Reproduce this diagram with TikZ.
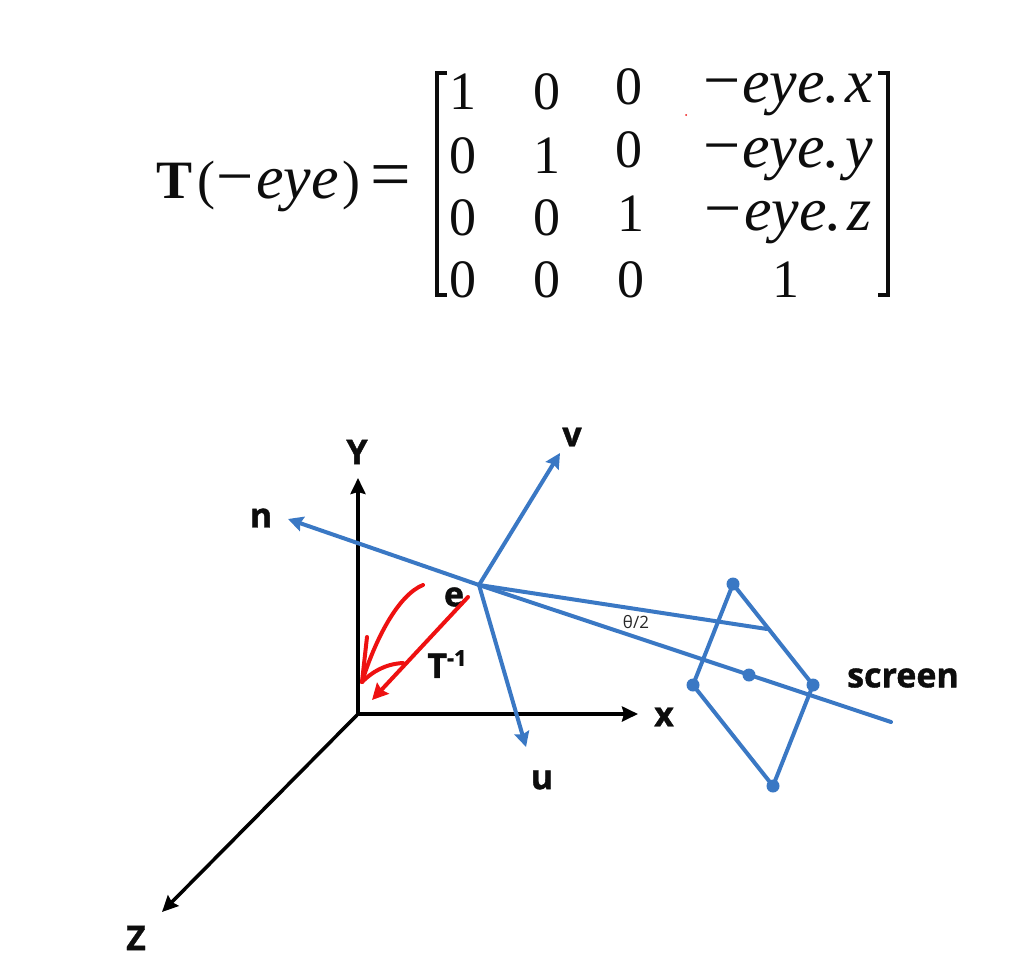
\documentclass[tikz,border=0pt]{standalone}
\usepackage{fontspec}
\setmainfont[BoldFeatures={FakeBold=1.2}]{Open Sans}
\newfontfamily\mfam{Liberation Serif}
\newcommand{\itx}[1]{{\fontsize{62}{62}\selectfont\itshape #1}}
\newcommand{\eyedot}[1]{{\fontsize{66}{66}\selectfont −}\kern2pt\itx{eye.\kern5pt #1}}
\usetikzlibrary{arrows.meta}
\definecolor{bluel}{HTML}{3A78C4}
\definecolor{redl}{HTML}{EE1111}
\tikzset{
 matentry/.style={inner sep=0pt,font=\mfam\fontsize{54}{54}\selectfont,text=black!95},
 lbl/.style={inner sep=0pt,font=\fontsize{34}{34}\selectfont\bfseries,text=black!95},
 axis/.style={line width=3.5pt,black,-{Stealth[inset=2pt,length=16pt,width=15pt]}},
 bline/.style={line width=4pt,bluel,line cap=round,line join=round},
 barrow/.style={bline,-{Stealth[inset=2pt,length=15pt,width=15pt]}},
 bdot/.style={circle,fill=bluel,inner sep=0pt,minimum size=13pt},
 rline/.style={line width=4pt,redl,line cap=round,line join=round},
 brack/.style={line width=3.6pt,black!95}
}
\begin{document}
\begin{tikzpicture}[x=1pt,y=-1pt]
\useasboundingbox (0,0) rectangle (1012,966);
% equation
\node[matentry] (lhs) at (284,186) {\textbf{T}\kern5pt(\kern1pt{\fontsize{66}{66}\selectfont −}\kern2pt\itx{eye}\kern4pt)\kern10pt{\fontsize{72}{72}\selectfont =}};
\draw[brack] (447,73) -- (437,73) -- (437,295) -- (447,295);
\draw[brack] (878,73) -- (888,73) -- (888,295) -- (878,295);
\node[matentry] (a11) at (463,92) {1};
\node[matentry] (a12) at (547,92) {0};
\node[matentry] (a13) at (629,87) {0};
\node[matentry] (a14) at (788,95) {\eyedot{x}};
\node[matentry] (a21) at (463,156) {0};
\node[matentry] (a22) at (547,156) {1};
\node[matentry] (a23) at (629,150) {0};
\node[matentry] (a24) at (788,160) {\eyedot{y}};
\node[matentry] (a31) at (463,218) {0};
\node[matentry] (a32) at (547,218) {0};
\node[matentry] (a33) at (631,214) {1};
\node[matentry] (a34) at (788,223) {\eyedot{z}};
\node[matentry] (a41) at (463,280) {0};
\node[matentry] (a42) at (547,280) {0};
\node[matentry] (a43) at (631,280) {0};
\node[matentry] (a44) at (786,280) {1};
\fill[redl] (686,115) circle (1pt);
% world axes
\coordinate (O) at (358,714);
\coordinate (Yt) at (358,478);
\coordinate (Xt) at (638,714);
\coordinate (Zt) at (162,912);
\draw[axis] (O) -- (Yt);
\draw[axis] (O) -- (Xt);
\draw[axis] (O) -- (Zt);
\node[lbl] (Y) at (357,452) {Y};
\node[lbl] (X) at (664,717) {x};
\node[lbl] (Z) at (136,938) {Z};
% camera
\coordinate (E) at (479,585);
\coordinate (N) at (288,519);
\coordinate (V) at (560,453);
\coordinate (U) at (526,747);
\coordinate (S) at (891,722);
\coordinate (Th) at (767,629);
\draw[barrow] (E) -- (N);
\draw[barrow] (E) -- (V);
\draw[barrow] (E) -- (U);
\draw[bline] (E) -- (S);
\draw[bline] (E) -- (Th);
\node[bdot] (q1) at (733,584) {};
\node[bdot] (q2) at (813,685) {};
\node[bdot] (q3) at (773,786) {};
\node[bdot] (q4) at (693,685) {};
\node[bdot] (qc) at (749,675) {};
\draw[bline] (q1.center) -- (q2.center) -- (q3.center) -- (q4.center) -- cycle;
\node[lbl] (n) at (261,518) {n};
\node[lbl] (v) at (572,437) {v};
\node[lbl] (u) at (542,780) {u};
\node[lbl] (e) at (454,597) {e};
\node[lbl] (T) at (447,664) {T\raisebox{12pt}{\fontsize{22}{22}\selectfont -1}};
\node[lbl] (scr) at (903,678) {screen};
\node[inner sep=0pt,font=\fontsize{17}{17}\selectfont,text=black!85] (th) at (636,622) {θ/2};
% red strokes
\coordinate (R1) at (468,597);
\coordinate (R2) at (372,700);
\coordinate (C0) at (423,585);
\coordinate (C1) at (362,682);
\coordinate (B1) at (367,637);
\coordinate (B2) at (403,663);
\draw[rline,-{Stealth[inset=2pt,length=16pt,width=16pt]}] (R1) -- (R2);
\draw[rline] (C0) .. controls (398,595) and (375,640) .. (C1);
\draw[rline] (B1) -- (C1);
\draw[rline] (B2) .. controls (385,664) and (372,672) .. (C1);
\end{tikzpicture}
\end{document}
